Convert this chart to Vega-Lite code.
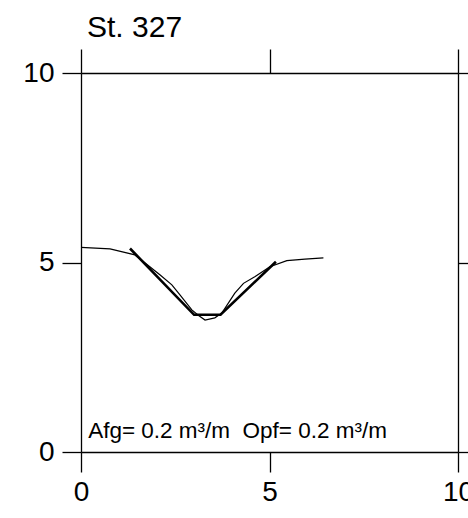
{
  "$schema": "https://vega.github.io/schema/vega-lite/v6.json",
  "width": 377,
  "height": 379,
  "autosize": "none",
  "padding": {"left": 81, "top": 73, "right": 10, "bottom": 66},
  "background": "white",
  "title": {"text": "St. 327", "anchor": "start", "frame": "group", "fontSize": 30, "fontWeight": "normal", "font": "Liberation Sans", "color": "black", "baseline": "bottom", "offset": 12, "dx": 6, "dy": 37},
  "config": {
    "view": {"stroke": null},
    "axis": {"grid": false, "domainColor": "black", "tickColor": "black", "domainWidth": 1.3, "tickWidth": 1.3, "labelColor": "black", "labelFont": "Liberation Sans", "labelFontSize": 28, "labelFlush": false, "title": null}
  },
  "datasets": {
    "profile": [
      {"x": 0.0, "y": 5.40},
      {"x": 0.77, "y": 5.36},
      {"x": 1.43, "y": 5.20},
      {"x": 2.10, "y": 4.67},
      {"x": 2.41, "y": 4.41},
      {"x": 2.63, "y": 4.14},
      {"x": 2.94, "y": 3.75},
      {"x": 3.11, "y": 3.61},
      {"x": 3.29, "y": 3.48},
      {"x": 3.55, "y": 3.54},
      {"x": 3.74, "y": 3.67},
      {"x": 4.08, "y": 4.19},
      {"x": 4.31, "y": 4.45},
      {"x": 4.62, "y": 4.63},
      {"x": 5.01, "y": 4.89},
      {"x": 5.46, "y": 5.05},
      {"x": 5.94, "y": 5.09},
      {"x": 6.43, "y": 5.12}
    ],
    "fit": [
      {"x": 1.30, "y": 5.37},
      {"x": 3.00, "y": 3.62},
      {"x": 3.70, "y": 3.62},
      {"x": 5.17, "y": 5.02}
    ],
    "note": [
      {"x": 0.19, "y": 0.37, "label": "Afg= 0.2 m³/m \u00a0Opf= 0.2 m³/m"}
    ]
  },
  "layer": [
    {
      "data": {"name": "profile"},
      "mark": {"type": "line", "color": "black", "strokeWidth": 1.2},
      "encoding": {
        "x": {"field": "x", "type": "quantitative", "scale": {"domain": [0, 10], "nice": false, "zero": false}, "axis": {"orient": "bottom", "values": [0, 5, 10], "tickSize": 20, "labelPadding": 6}},
        "y": {"field": "y", "type": "quantitative", "scale": {"domain": [0, 10], "nice": false, "zero": false}, "axis": {"orient": "left", "values": [0, 5, 10], "tickSize": 19, "labelPadding": 8}},
        "order": {"field": "x", "type": "quantitative"}
      }
    },
    {
      "data": {"name": "fit"},
      "mark": {"type": "line", "color": "black", "strokeWidth": 2.6},
      "encoding": {
        "x": {"field": "x", "type": "quantitative", "scale": {"domain": [0, 10], "nice": false, "zero": false}, "axis": {"orient": "top", "values": [0, 5, 10], "tickSize": 24, "labels": false}},
        "y": {"field": "y", "type": "quantitative", "scale": {"domain": [0, 10], "nice": false, "zero": false}, "axis": {"orient": "right", "values": [0, 5, 10], "tickSize": 12, "labels": false}},
        "order": {"field": "x", "type": "quantitative"}
      }
    },
    {
      "data": {"name": "note"},
      "mark": {"type": "text", "align": "left", "baseline": "alphabetic", "font": "Liberation Sans", "fontSize": 22.5, "color": "black"},
      "encoding": {
        "x": {"field": "x", "type": "quantitative", "scale": {"domain": [0, 10], "nice": false, "zero": false}, "axis": null},
        "y": {"field": "y", "type": "quantitative", "scale": {"domain": [0, 10], "nice": false, "zero": false}, "axis": null},
        "text": {"field": "label"}
      }
    }
  ],
  "resolve": {"axis": {"x": "independent", "y": "independent"}}
}
